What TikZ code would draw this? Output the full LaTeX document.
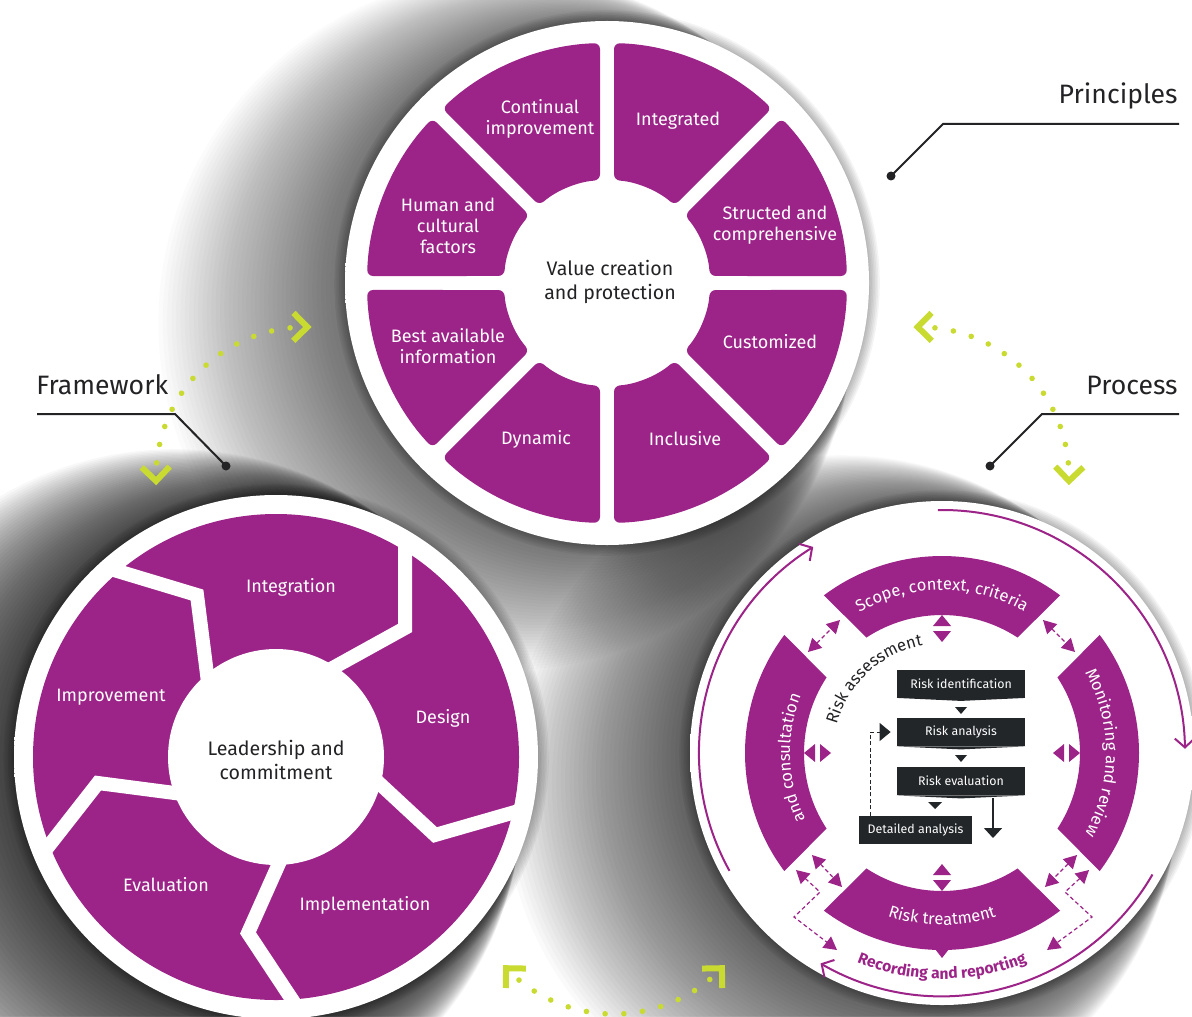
\documentclass[tikz,border=0pt]{standalone}
\usepackage{fontspec}
\setmainfont{Fira Sans}
\usetikzlibrary{arrows.meta,decorations.text,calc}
\definecolor{pur}{RGB}{156,35,135}
\definecolor{lime}{RGB}{201,219,48}
\definecolor{ink}{RGB}{35,35,38}
\definecolor{boxk}{RGB}{34,38,41}
\pgfdeclareradialshading{rimsh}{\pgfpointorigin}{color(0bp)=(white); color(45bp)=(white); color(48.5bp)=(black!5); color(50bp)=(black!20)}
\pgfdeclareradialshading{hubsh}{\pgfpointorigin}{color(0bp)=(white); color(38bp)=(white); color(50bp)=(black!30)}
\newcommand\bndfont{\fontsize{8.3}{10}\selectfont}
\newcommand\recfont{\fontsize{7.8}{9}\selectfont\bfseries}
\newcommand\chevat[4]{\begin{scope}[shift={(#1,#2)}]\begin{scope}[shift={(#3:150)},rotate=#4]\draw[chev] (-14,14) -- (0,0) -- (-14,-14);\end{scope}\end{scope}}
% soft directional shadow: cx, cy, R, alpha
\newcommand\shadowstack[4]{\foreach \k in {1,...,44}{\fill[black, fill opacity=#4] (#1-2.3*\k, #2-0.9*\k) circle (#3+2.1*\k);}}
\newcommand\rimshadow[3]{\foreach \k in {1,...,8}{\fill[black, fill opacity=0.045] (#1,#2) circle (#3+1.6*\k);}}
\tikzset{
  lbl/.style={text=white, align=center, font=\fontsize{9}{10.5}\selectfont, inner sep=0pt},
  hublbl/.style={text=ink, align=center, font=\fontsize{9.8}{12.3}\selectfont, inner sep=0pt},
  head/.style={text=ink, font=\fontsize{13.3}{15}\selectfont, inner sep=0pt},
  callout/.style={ink, line width=1pt},
  cdot/.style={circle, fill=ink, inner sep=0pt, minimum size=4.5pt},
  gapline/.style={white, line width=7pt, line join=miter},
  rbox/.style={fill=boxk, text=white, font=\fontsize{6.2}{7}\selectfont, minimum height=14pt, inner sep=0pt},
  darrow/.style={pur, line width=0.6pt, dash pattern=on 2pt off 1.4pt, {Triangle[length=6.5pt,width=7pt]}-{Triangle[length=6.5pt,width=7pt]}},
  parrow/.style={pur, line width=1pt, -{Straight Barb[length=4.5pt,width=10pt]}},
  chev/.style={lime, line width=3pt, line join=miter},
}
\begin{document}
\begin{tikzpicture}[x=0.5pt,y=0.5pt]
\useasboundingbox (0,0) rectangle (1192,-1016);
\clip (0,0) rectangle (1192,-1016);
\fill[white] (0,0) rectangle (1192,-1016);
% ---------- shadows ----------
\shadowstack{607}{-283}{255}{0.017}
\shadowstack{276}{-757}{255}{0.026}
\shadowstack{942}{-753}{245}{0.021}
\rimshadow{607}{-283}{260}
\rimshadow{276}{-757}{260}
\rimshadow{942}{-753}{250}
% ---------- disks ----------
\shade[shading=rimsh] (607,-283) circle (262);
\shade[shading=rimsh] (276,-757) circle (262);
\shade[shading=rimsh] (942,-753) circle (252);
% ---------- Principles ----------
\begin{scope}[shift={(607,-283)}]
\foreach \a in {0,45,...,315}{
  \fill[pur, rounded corners=3pt] (\a+1.67:240) arc[start angle=\a+1.67, end angle=\a+43.33, radius=240] -- (\a+41.1:103) arc[start angle=\a+41.1, end angle=\a+3.9, radius=103] -- cycle;
}
\fill[white] (0,0) circle (99);
\shade[shading=hubsh] (0,0) circle (89);
\end{scope}
\node[lbl] (p1) at (540,-119) {Continual\\improvement};
\node[lbl] (p2) at (678,-121) {Integrated};
\node[lbl] (p3) at (775,-225) {Structed and\\comprehensive};
\node[lbl] (p4) at (770,-342) {Customized};
\node[lbl] (p5) at (685,-439) {Inclusive};
\node[lbl] (p6) at (536,-439) {Dynamic};
\node[lbl] (p7) at (448,-346) {Best available\\information};
\node[lbl] (p8) at (448,-226) {Human and\\cultural\\factors};
\node[hublbl] (pc) at (610,-282) {Value creation\\and protection};
% ---------- Framework ----------
\fill[pur] (276,-757) circle (243);
\draw[gapline] (114,-570) -- (197,-595) -- (209,-690);
\draw[gapline] (405,-538) -- (405,-628) -- (320,-675);
\draw[gapline] (365,-770) -- (435,-835) -- (522,-810);
\draw[gapline] (285,-850) -- (248,-933) -- (295,-1004);
\draw[gapline] (190,-795) -- (98,-783) -- (44,-852);
\fill[white] (276,-757) circle (108);
\shade[shading=hubsh] (276,-757) circle (96);
\node[lbl] (f1) at (291,-587) {Integration};
\node[lbl] (f2) at (443,-718) {Design};
\node[lbl] (f3) at (365,-905) {Implementation};
\node[lbl] (f4) at (166,-885) {Evaluation};
\node[lbl] (f5) at (111,-697) {Improvement};
\node[hublbl] (fc) at (276,-760) {Leadership and\\commitment};
% ---------- Process ----------
\begin{scope}[shift={(942,-753)}]
\foreach \c in {0,90,180,270}{
  \fill[pur] (\c+36.83:197) arc[start angle=\c+36.83, end angle=\c-36.83, radius=197] -- (\c-33.2:138) arc[start angle=\c-33.2, end angle=\c+33.2, radius=138] -- cycle;
  \begin{scope}[rotate=\c]
    \fill[pur] (127,-9) -- (138,0) -- (127,9) -- cycle;
    \fill[pur] (122,-9) -- (111,0) -- (122,9) -- cycle;
  \end{scope}
}
\fill[pur] (-7,-196) -- (0,-205) -- (7,-196) -- cycle;
\draw[parrow] (91:243) arc[start angle=91, end angle=1, radius=243];
\draw[parrow] (209:243) arc[start angle=209, end angle=122, radius=243];
\draw[parrow] (330:243) arc[start angle=330, end angle=240, radius=243];
\path[decorate, decoration={text along path, text align=center, text color=white, text={|\bndfont|Scope, context, criteria}}] (128:163) arc[start angle=128, end angle=52, radius=163];
\path[decorate, decoration={text along path, text align=center, text color=white, text={|\bndfont|and consultation}}] (218:152) arc[start angle=218, end angle=146, radius=152];
\path[decorate, decoration={text along path, text align=center, text color=white, text={|\bndfont|Monitoring and review}}] (36:164) arc[start angle=36, end angle=-36, radius=164];
\path[decorate, decoration={text along path, text align=center, text color=white, text={|\bndfont|Risk treatment}}] (232:172) arc[start angle=232, end angle=308, radius=172];
\path[decorate, decoration={text along path, text align=center, text color=pur, text={|\recfont|Recording and reporting}}] (236:226) arc[start angle=236, end angle=304, radius=226];
\path[decorate, decoration={text along path, text align=center, text color=ink, text={|\bndfont|Risk assessment}}] (170:109) arc[start angle=170, end angle=95, radius=109];
\end{scope}
% dashed double arrows
\coordinate (tl1) at (808,-652); \coordinate (tl2) at (840,-620);
\coordinate (tr1) at (1043,-620); \coordinate (tr2) at (1075,-652);
\coordinate (bl1) at (812,-855); \coordinate (bl2) at (842,-887);
\coordinate (bl3) at (796,-870); \coordinate (bl4) at (837,-950);
\coordinate (br1) at (1077,-855); \coordinate (br2) at (1045,-887);
\coordinate (br3) at (1089,-870); \coordinate (br4) at (1047,-950);
\draw[darrow] (tl1) -- (tl2);
\draw[darrow] (tr1) -- (tr2);
\draw[darrow] (bl1) -- (bl2);
\draw[darrow] (bl3) -- (820,-892) -- (794,-917) -- (bl4);
\draw[darrow] (br1) -- (br2);
\draw[darrow] (br3) -- (1065,-892) -- (1092,-917) -- (br4);
% risk assessment boxes
\node[rbox, minimum width=64pt] (rid) at (961,-683.5) {Risk identification};
\node[rbox, minimum width=64pt] (ran) at (961,-732) {Risk analysis};
\node[rbox, minimum width=64pt] (rev) at (961,-781) {Risk evaluation};
\node[rbox, minimum width=56.5pt] (rda) at (915.5,-830) {Detailed analysis};
\foreach \b in {rid,ran,rev}{
  \fill[boxk] (\b.south west) -- ($(\b.south)+(0,-1.5pt)$) -- (\b.south east) -- cycle;
}
\fill[boxk] (955,-707) -- (967,-707) -- (961,-714) -- cycle;
\fill[boxk] (955,-755) -- (967,-755) -- (961,-762) -- cycle;
\fill[boxk] (928,-802) -- (942,-802) -- (935,-809) -- cycle;
\coordinate (dtop) at (993,-798);
\coordinate (dbot) at (993,-838);
\draw[boxk, line width=0.8pt, -{Triangle[length=5pt,width=9pt]}] (dtop) -- (dbot);
\draw[boxk, line width=0.5pt, dash pattern=on 2pt off 1.2pt, -{Triangle[length=5.5pt,width=9pt]}, shorten >=3pt] ($(rda.north west)+(6pt,0)$) |- (ran.west);
% ---------- lime connectors ----------
\foreach \i in {0,...,11}{
  \fill[lime] ($(306,-477)+({174.6-\i*7.136}:150)$) circle (2.8);
  \fill[lime] ($(919,-477)+({5.4+\i*7.136}:150)$) circle (2.8);
  \fill[lime] ($(614,-864)+({230.7+\i*7.18}:150)$) circle (2.8);
}
\chevat{306}{-477}{89.5}{-0.5}
\chevat{306}{-477}{181.5}{271.5}
\chevat{919}{-477}{90.5}{180.5}
\chevat{919}{-477}{-1.5}{268.5}
\chevat{614}{-864}{224}{134}
\chevat{614}{-864}{316}{46}
% ---------- callouts ----------
\node[head, anchor=base east] (ptxt) at (1178,-104) {Principles};
\node[head, anchor=base west] (ftxt) at (36,-394) {Framework};
\node[head, anchor=base east] (rtxt) at (1178,-394) {Process};
\node[cdot] (pdot) at (891,-176) {};
\node[cdot] (fdot) at (226,-466) {};
\node[cdot] (rdot) at (990,-466) {};
\coordinate (pend) at (1179,-124);
\coordinate (fend) at (37,-414);
\coordinate (rend) at (1179,-414);
\draw[callout] (pend) -- (943,-124) -- (pdot.center);
\draw[callout] (fend) -- (175,-414) -- (fdot.center);
\draw[callout] (rend) -- (1042,-414) -- (rdot.center);
\end{tikzpicture}
\end{document}
